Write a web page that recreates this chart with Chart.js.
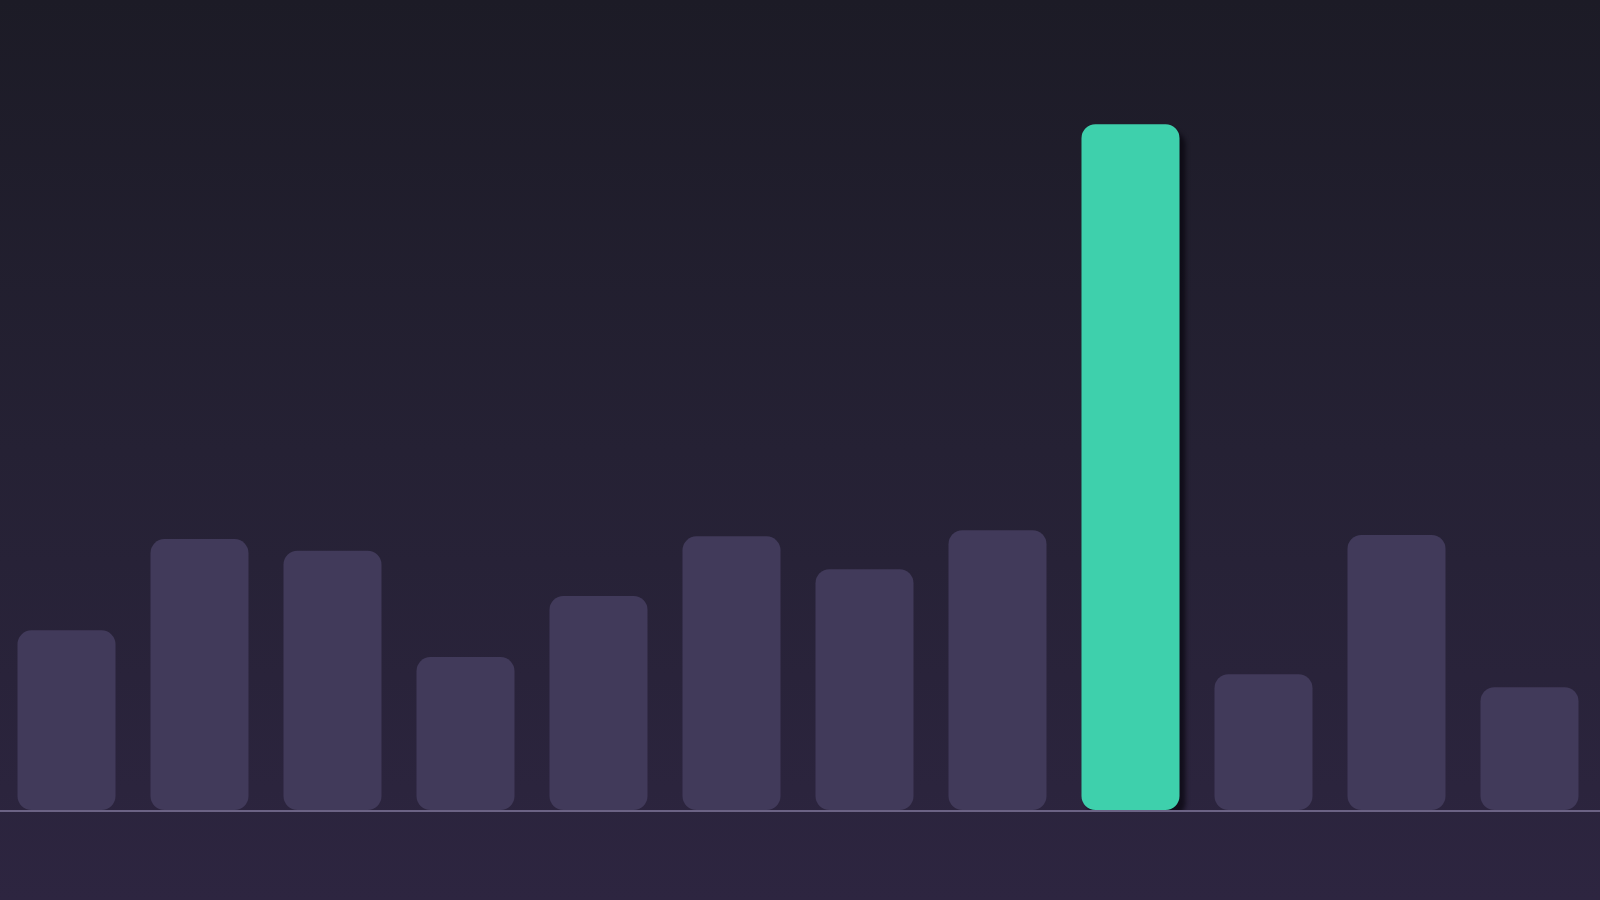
<!DOCTYPE html>
<html>
<head>
<meta charset="utf-8">
<script src="https://cdn.jsdelivr.net/npm/chart.js@4/dist/chart.umd.min.js"></script>
<style>
  html, body { margin: 0; padding: 0; background: #24202f; }
  #wrap { width: 1600px; height: 900px; }
</style>
</head>
<body>
<div id="wrap"><canvas id="bars"></canvas></div>
<script>
const labels = ['1', '2', '3', '4', '5', '6', '7', '8', '9', '10', '11', '12'];
const values = [26.2, 39.5, 37.8, 22.3, 31.2, 39.9, 35.1, 40.8, 100, 19.8, 40.1, 17.9];
const highlightIndex = 8;
const yMax = 118.1;

// split into muted bars and the one highlighted bar
const mutedValues = values.map((v, i) => i === highlightIndex ? null : v);
const highlightValues = values.map((v, i) => i === highlightIndex ? v : null);

const background = {
    id: 'background',
    beforeDraw(chart) {
        const ctx = chart.ctx;
        const g = ctx.createLinearGradient(0, 0, 0, chart.height);
        g.addColorStop(0, '#1c1b26');
        g.addColorStop(0.5, '#252134');
        g.addColorStop(1, '#2d2540');
        ctx.save();
        ctx.fillStyle = g;
        ctx.fillRect(0, 0, chart.width, chart.height);
        ctx.restore();
    }
};

const barShadow = {
    id: 'barShadow',
    beforeDatasetDraw(chart, args) {
        if (args.index !== 1) return;
        const ctx = chart.ctx;
        ctx.save();
        ctx.shadowColor = 'rgba(8, 6, 14, 0.7)';
        ctx.shadowBlur = 4;
        ctx.shadowOffsetX = 6;
        ctx.shadowOffsetY = 7;
    },
    afterDatasetDraw(chart, args) {
        if (args.index !== 1) return;
        chart.ctx.restore();
    }
};

const baseline = {
    id: 'baseline',
    afterDatasetsDraw(chart) {
        const ctx = chart.ctx;
        const y = chart.scales.y.getPixelForValue(0);
        ctx.save();
        ctx.strokeStyle = 'rgba(150, 140, 180, 0.6)';
        ctx.lineWidth = 2;
        ctx.beginPath();
        ctx.moveTo(0, y + 1);
        ctx.lineTo(chart.width, y + 1);
        ctx.stroke();
        ctx.restore();
    }
};

new Chart(document.getElementById('bars'), {
    type: 'bar',
    data: {
        labels: labels,
        datasets: [
            {
                data: mutedValues,
                backgroundColor: '#413a5a',
                borderRadius: 14,
                borderSkipped: false
            },
            {
                data: highlightValues,
                backgroundColor: '#3ed0ac',
                borderRadius: 14,
                borderSkipped: false
            }
        ]
    },
    options: {
        responsive: true,
        maintainAspectRatio: false,
        animation: false,
        layout: { padding: { top: 0, left: 0, right: 4, bottom: 90 } },
        datasets: {
            bar: {
                grouped: false,
                categoryPercentage: 1,
                barPercentage: 0.737
            }
        },
        plugins: {
            legend: { display: false },
            tooltip: { enabled: false }
        },
        scales: {
            x: { display: false },
            y: { display: false, min: 0, max: yMax }
        }
    },
    plugins: [background, barShadow, baseline]
});
</script>
</body>
</html>
